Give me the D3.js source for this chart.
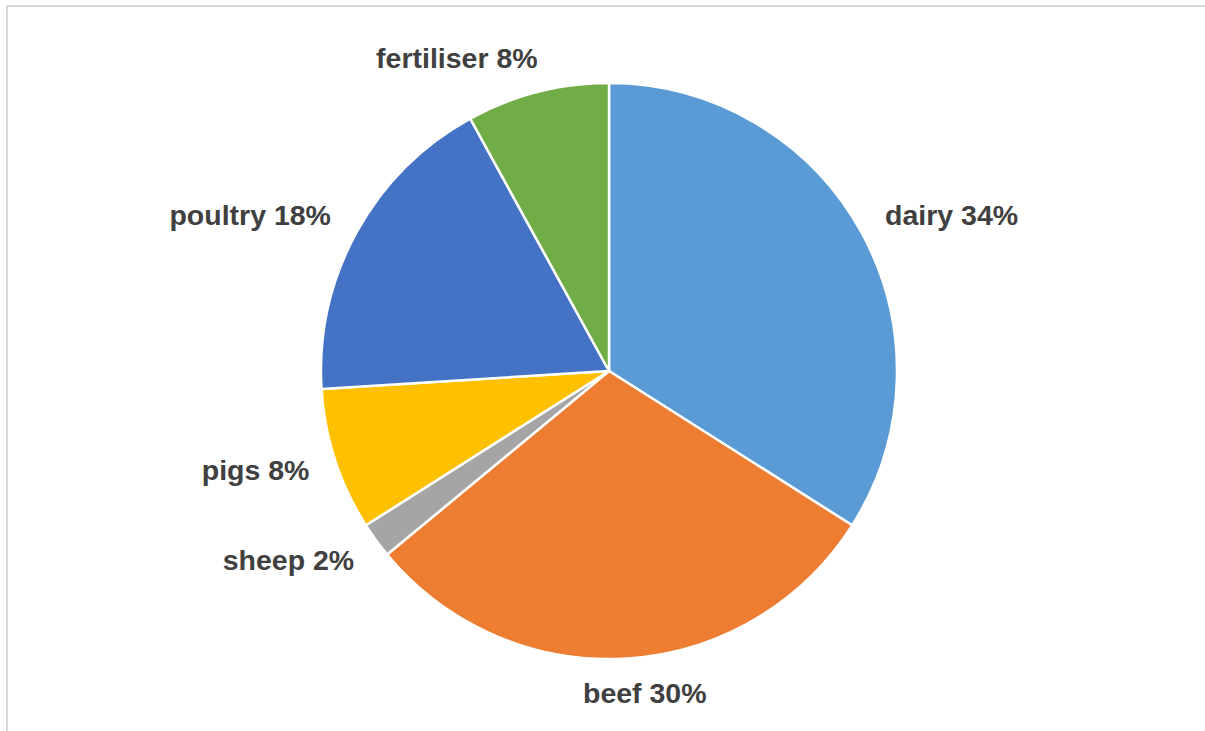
<!DOCTYPE html>
<html>
<head>
<meta charset="utf-8">
<script src="https://cdn.jsdelivr.net/npm/d3@7"></script>
<style>
html,body{margin:0;padding:0;background:#fff;}
svg{display:block;}
</style>
</head>
<body>
<svg id="chart" width="1205" height="731"></svg>
<script>
const categories = ["dairy", "beef", "sheep", "pigs", "poultry", "fertiliser"];
const values = [34, 30, 2, 8, 18, 8];
const colors = ["#5B9BD5", "#ED7D31", "#A5A5A5", "#FFC000", "#4472C4", "#70AD47"];

const W = 1205, H = 731;
const cx = 609, cy = 371, R = 288;
// small best-fit nudges for label placement (layout only, in px)
const labelNudge = { beef: [16, 0], fertiliser: [7, 0], poultry: [-2, 0] };
const svg = d3.select("#chart");

// chart border (extends beyond right/bottom of view)
svg.append("rect")
  .attr("x", 7).attr("y", 6)
  .attr("width", W + 20).attr("height", H + 20)
  .attr("fill", "#fff")
  .attr("stroke", "#d9d9d9").attr("stroke-width", 2);

const data = categories.map((c, i) => ({ name: c, value: values[i], color: colors[i] }));
const pie = d3.pie().value(d => d.value).sort(null);
const arcs = pie(data);
const arc = d3.arc().innerRadius(0).outerRadius(R);

const g = svg.append("g").attr("transform", `translate(${cx},${cy})`);
g.selectAll("path.slice")
  .data(arcs)
  .enter().append("path")
  .attr("class", "slice")
  .attr("d", arc)
  .attr("fill", d => d.data.color)
  .attr("stroke", "#fff")
  .attr("stroke-width", 2.5)
  .attr("stroke-linejoin", "round");

const totalV = d3.sum(values);
const labelRx = R + 27, labelRy = R + 35;
g.selectAll("text.lbl")
  .data(arcs)
  .enter().append("text")
  .attr("class", "lbl")
  .each(function(d) {
    const a = (d.startAngle + d.endAngle) / 2;
    const s = Math.sin(a), c = Math.cos(a);
    const n = labelNudge[d.data.name] || [0, 0];
    const x = labelRx * s + n[0], y = -labelRy * c + n[1];
    const anchor = s > 0.2 ? "start" : (s < -0.2 ? "end" : "middle");
    d3.select(this)
      .attr("x", x).attr("y", y)
      .attr("dy", "0.33em")
      .attr("text-anchor", anchor);
  })
  .attr("font-family", "Liberation Sans, Arial, sans-serif")
  .attr("font-weight", "bold")
  .attr("font-size", "28.5px")
  .attr("fill", "#404040")
  .text(d => `${d.data.name} ${Math.round(d.data.value / totalV * 100)}%`);
</script>
</body>
</html>
